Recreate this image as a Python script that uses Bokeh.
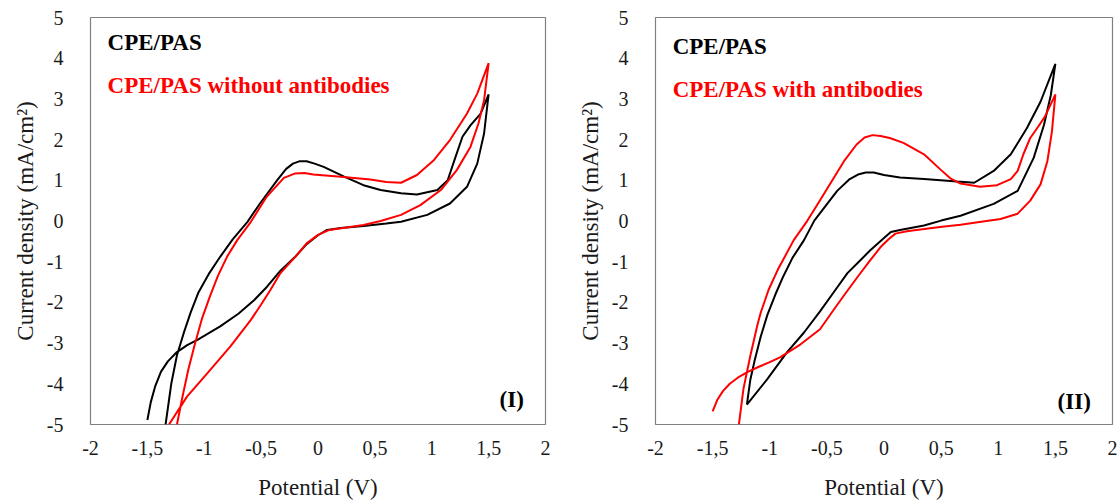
from bokeh.plotting import figure
from bokeh.layouts import row
from bokeh.models import FixedTicker, Label, Range1d
from bokeh.embed import file_html
from bokeh.resources import INLINE

# ---------------- data ----------------
x_ticks = [-2.0, -1.5, -1.0, -0.5, 0.0, 0.5, 1.0, 1.5, 2.0]
x_tick_labels = ["-2", "-1,5", "-1", "-0,5", "0", "0,5", "1", "1,5", "2"]
y_ticks = [-5, -4, -3, -2, -1, 0, 1, 2, 3, 4, 5]
y_tick_labels = ["-5", "-4", "-3", "-2", "-1", "0", "1", "2", "3", "4", "5"]

x_title = "Potential (V)"
y_title = "Current density (mA/cm\u00b2)"

# Panel (I): CPE/PAS
p1_black_x = [-1.50, -1.47, -1.43, -1.38, -1.32, -1.24, -1.15, -1.06, -0.86, -0.70, -0.56, -0.45, -0.33, -0.20,
              -0.10, 0.00, 0.08, 0.20, 0.40, 0.60, 0.73, 0.96, 1.16, 1.31, 1.40, 1.46, 1.49, 1.50,
              1.43, 1.34, 1.27, 1.21, 1.14, 1.05, 0.87, 0.73, 0.55, 0.40, 0.23, 0.05, -0.03, -0.10, -0.16,
              -0.22, -0.28, -0.36, -0.51, -0.62, -0.75, -0.86, -0.96, -1.05, -1.12, -1.18, -1.24, -1.29, -1.34]
p1_black_y = [-4.89, -4.45, -4.05, -3.70, -3.45, -3.22, -3.05, -2.92, -2.59, -2.28, -1.94, -1.62, -1.22, -0.88,
              -0.57, -0.35, -0.22, -0.17, -0.12, -0.06, -0.02, 0.15, 0.43, 0.84, 1.41, 2.15, 2.88, 3.11,
              2.64, 2.35, 2.07, 1.58, 1.00, 0.76, 0.65, 0.68, 0.76, 0.88, 1.09, 1.33, 1.41, 1.47, 1.47,
              1.41, 1.28, 1.00, 0.43, -0.02, -0.45, -0.88, -1.30, -1.75, -2.25, -2.75, -3.30, -4.00, -5.00]

# Panel (I): CPE/PAS without antibodies
p1_red_x = [-1.31, -1.15, -0.97, -0.77, -0.59, -0.50, -0.42, -0.33, -0.20, -0.10, 0.00, 0.10, 0.25, 0.40,
            0.55, 0.73, 0.90, 1.08, 1.22, 1.34, 1.41, 1.46, 1.50,
            1.40, 1.31, 1.16, 1.02, 0.87, 0.73, 0.60, 0.46, 0.20, -0.04, -0.12, -0.20, -0.30, -0.45, -0.59,
            -0.71, -0.80, -0.88, -0.95, -1.02, -1.08, -1.14, -1.19, -1.24]
p1_red_y = [-5.00, -4.31, -3.73, -3.08, -2.43, -2.05, -1.70, -1.28, -0.88, -0.55, -0.34, -0.22, -0.16, -0.10,
            0.00, 0.15, 0.39, 0.76, 1.25, 1.82, 2.39, 2.97, 3.88,
            3.13, 2.64, 1.99, 1.50, 1.13, 0.94, 0.96, 1.02, 1.09, 1.14, 1.18, 1.17, 1.06, 0.60, -0.02,
            -0.47, -0.88, -1.35, -1.85, -2.40, -3.00, -3.65, -4.30, -5.00]

# Panel (II): CPE/PAS
p2_black_x = [-1.20, -1.02, -0.85, -0.70, -0.56, -0.44, -0.32, -0.22, -0.12, 0.00, 0.06, 0.14, 0.35, 0.50,
              0.67, 0.96, 1.17, 1.31, 1.40, 1.46, 1.50,
              1.37, 1.25, 1.11, 0.96, 0.79, 0.64, 0.35, 0.14, 0.00, -0.09, -0.16, -0.22, -0.30, -0.41, -0.61,
              -0.70, -0.80, -0.88, -0.95, -1.02, -1.08, -1.13, -1.17, -1.20]
p2_black_y = [-4.51, -3.88, -3.23, -2.74, -2.22, -1.75, -1.28, -1.00, -0.72, -0.42, -0.27, -0.22, -0.11, 0.01,
              0.13, 0.42, 0.74, 1.55, 2.36, 3.09, 3.86,
              2.93, 2.28, 1.64, 1.23, 0.94, 0.97, 1.03, 1.07, 1.13, 1.19, 1.19, 1.15, 1.03, 0.74, 0.01,
              -0.47, -0.90, -1.35, -1.80, -2.30, -2.85, -3.40, -3.90, -4.51]

# Panel (II): CPE/PAS with antibodies
p2_red_x = [-1.50, -1.46, -1.41, -1.35, -1.28, -1.20, -1.11, -1.01, -0.91, -0.73, -0.56, -0.44, -0.33, -0.23,
            -0.13, -0.03, 0.04, 0.10, 0.20, 0.49, 0.67, 0.82, 1.02, 1.17, 1.28, 1.37, 1.43, 1.47, 1.50,
            1.41, 1.34, 1.28, 1.22, 1.17, 1.11, 0.99, 0.84, 0.67, 0.58, 0.50, 0.35, 0.17, 0.05, -0.03, -0.10,
            -0.17, -0.24, -0.35, -0.58, -0.67, -0.79, -0.93, -1.01, -1.08, -1.11, -1.17, -1.23, -1.27]
p2_red_y = [-4.68, -4.40, -4.18, -4.00, -3.85, -3.72, -3.60, -3.48, -3.35, -3.03, -2.66, -2.18, -1.75, -1.37,
            -1.00, -0.64, -0.45, -0.31, -0.25, -0.15, -0.09, -0.03, 0.05, 0.18, 0.50, 0.90, 1.47, 2.20, 3.11,
            2.57, 2.28, 2.04, 1.64, 1.23, 1.03, 0.88, 0.84, 0.92, 1.05, 1.25, 1.64, 1.92, 2.04, 2.09, 2.11,
            2.05, 1.88, 1.47, 0.42, 0.01, -0.47, -1.20, -1.69, -2.26, -2.58, -3.31, -4.12, -5.00]

panels = [
    dict(bx=p1_black_x, by=p1_black_y, rx=p1_red_x, ry=p1_red_y,
         black_label="CPE/PAS", red_label="CPE/PAS without antibodies", tag="(I)"),
    dict(bx=p2_black_x, by=p2_black_y, rx=p2_red_x, ry=p2_red_y,
         black_label="CPE/PAS", red_label="CPE/PAS with antibodies", tag="(II)"),
]

FONT = "'Liberation Serif', 'Times New Roman', serif"
RED = "#ff0000"


def make_panel(d, width, border_left, border_right, border_top, border_bottom,
               lbl_y1, lbl_y2, tag_y):
    p = figure(width=width, height=502, output_backend="svg", toolbar_location=None,
               x_range=Range1d(-2, 2), y_range=Range1d(-5, 5),
               min_border_left=border_left, min_border_right=border_right,
               min_border_top=border_top, min_border_bottom=border_bottom)
    p.background_fill_color = "white"
    p.border_fill_color = "white"
    p.outline_line_color = "#808080"
    p.outline_line_width = 1.2
    p.grid.visible = False

    p.line(d["bx"], d["by"], line_color="black", line_width=2)
    p.line(d["rx"], d["ry"], line_color=RED, line_width=2)

    xa = p.xaxis[0]
    ya = p.yaxis[0]
    xa.ticker = FixedTicker(ticks=x_ticks)
    xa.major_label_overrides = {float(t): s for t, s in zip(x_ticks, x_tick_labels)}
    ya.ticker = FixedTicker(ticks=y_ticks)
    ya.major_label_overrides = {float(t): s for t, s in zip(y_ticks, y_tick_labels)}

    for ax in (xa, ya):
        ax.axis_line_color = None
        ax.major_tick_line_color = None
        ax.minor_tick_line_color = None
        ax.major_tick_out = 0
        ax.major_tick_in = 0
        ax.major_label_text_font = FONT
        ax.major_label_text_font_size = "20px"
        ax.major_label_text_color = "#1a1a1a"
        ax.axis_label_text_font = FONT
        ax.axis_label_text_font_size = "23px"
        ax.axis_label_text_font_style = "normal"
        ax.axis_label_text_color = "#1a1a1a"
    xa.major_label_standoff = 16
    xa.axis_label_standoff = 17
    ya.major_label_standoff = 27
    ya.axis_label_standoff = 6
    xa.axis_label = x_title
    ya.axis_label = y_title

    p.add_layout(Label(x=-1.85, y=lbl_y1, text=d["black_label"], text_font=FONT,
                       text_font_size="23px", text_font_style="bold", text_color="black",
                       text_baseline="middle", text_align="left"))
    p.add_layout(Label(x=-1.85, y=lbl_y2, text=d["red_label"], text_font=FONT,
                       text_font_size="23px", text_font_style="bold", text_color=RED,
                       text_baseline="middle", text_align="left"))
    p.add_layout(Label(x=1.81, y=tag_y, text=d["tag"], text_font=FONT,
                       text_font_size="23px", text_font_style="bold", text_color="black",
                       text_baseline="middle", text_align="right"))
    return p


p1 = make_panel(panels[0], 565, 90, 20, 17, 77, 4.38, 3.33, -4.39)
p2 = make_panel(panels[1], 555, 90, 8, 15, 76, 4.28, 3.24, -4.43)

layout = row(p1, p2)
open("out.html", "w").write(file_html(layout, INLINE))
